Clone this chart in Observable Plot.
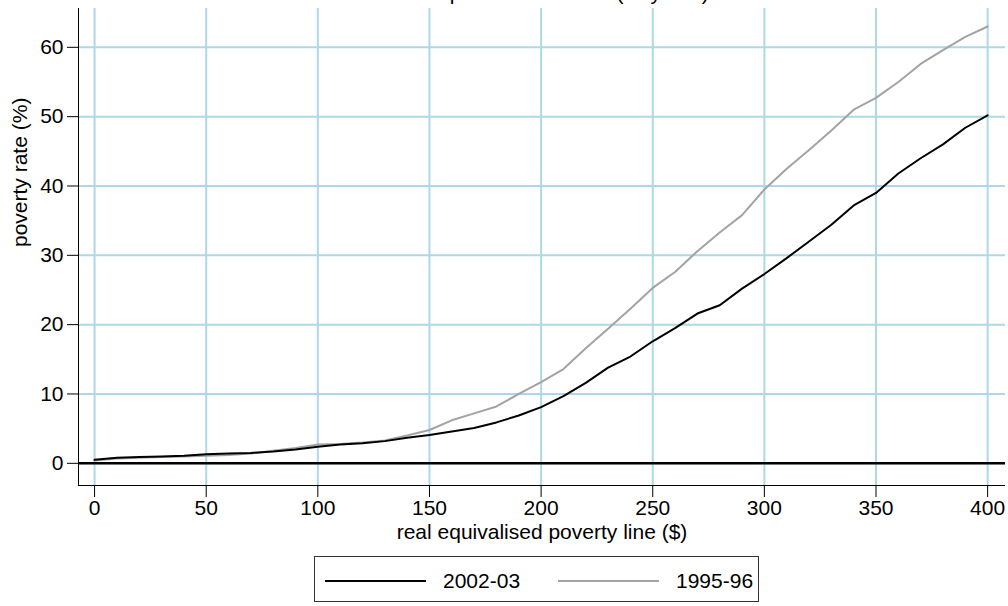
<!DOCTYPE html>
<html>
<head>
<meta charset="utf-8">
<script src="https://cdn.jsdelivr.net/npm/d3@7"></script>
<script src="https://cdn.jsdelivr.net/npm/@observablehq/plot@0.6"></script>
<style>
  html, body { margin: 0; padding: 0; background: #fff; }
  body { width: 1008px; height: 606px; overflow: hidden; position: relative; font-family: "Liberation Sans", Arial, sans-serif; }
  #legend { position: absolute; left: 314px; top: 556px; width: 445px; height: 46px; border: 1px solid #333; box-sizing: border-box; }
</style>
</head>
<body>
<div id="chart"></div>
<div id="legend"></div>
<script>
const title = "Couples with children (all years)";
const xLabel = "real equivalised poverty line ($)";
const yLabel = "poverty rate (%)";
const xTicks = [0, 50, 100, 150, 200, 250, 300, 350, 400];
const yTicks = [0, 10, 20, 30, 40, 50, 60];
const seriesNames = ["2002-03", "1995-96"];
const seriesColors = ["#000000", "#a3a3a3"];

const povertyLine = [0,10,20,30,40,50,60,70,80,90,100,110,120,130,140,150,160,170,180,190,200,210,220,230,240,250,260,270,280,290,300,310,320,330,340,350,360,370,380,390,400];
const rate2002 = [0.5,0.8,0.9,1.0,1.1,1.3,1.4,1.5,1.7,2.0,2.4,2.7,2.9,3.2,3.7,4.1,4.6,5.1,5.9,6.9,8.1,9.7,11.6,13.8,15.4,17.6,19.5,21.6,22.8,25.2,27.3,29.6,32.0,34.4,37.2,39.0,41.8,44.0,46.0,48.4,50.2];
const rate1995 = [0.4,0.7,0.8,0.9,1.0,1.1,1.2,1.4,1.8,2.2,2.7,2.8,3.0,3.3,4.0,4.8,6.2,7.2,8.2,10.0,11.7,13.6,16.6,19.4,22.3,25.3,27.6,30.6,33.3,35.8,39.5,42.5,45.2,48.0,51.0,52.7,55.0,57.6,59.6,61.5,63.0];

const xDomain = [-7.2, 408];
const yDomain = [-3.2, 65.6];

const rows = [];
povertyLine.forEach((x, i) => {
  rows.push({x, y: rate1995[i], s: seriesNames[1]});
});
povertyLine.forEach((x, i) => {
  rows.push({x, y: rate2002[i], s: seriesNames[0]});
});

const plot = Plot.plot({
  width: 1008,
  height: 548,
  marginLeft: 78,
  marginRight: 3,
  marginTop: 8,
  marginBottom: 63,
  style: {fontFamily: "'Liberation Sans', Arial, sans-serif", fontSize: "21px", color: "#000", background: "#fff", overflow: "visible"},
  x: {domain: xDomain},
  y: {domain: yDomain},
  color: {domain: seriesNames, range: seriesColors},
  marks: [
    Plot.gridX(xTicks, {stroke: "#add8e6", strokeOpacity: 1, strokeWidth: 2}),
    Plot.gridY(yTicks, {stroke: "#add8e6", strokeOpacity: 1, strokeWidth: 2}),
    Plot.ruleY([0], {stroke: "#000", strokeWidth: 2.5}),
    Plot.line(rows, {x: "x", y: "y", z: "s", stroke: "s", strokeWidth: 2}),
    Plot.ruleX([xDomain[0]], {stroke: "#000", strokeWidth: 1}),
    Plot.ruleY([yDomain[0]], {stroke: "#000", strokeWidth: 1}),
    Plot.axisX(xTicks, {tickSize: 12, tickPadding: 3, label: null, fontSize: 21}),
    Plot.axisY(yTicks, {tickSize: 11, tickPadding: 4, label: null, fontSize: 21}),
    Plot.text([xLabel], {frameAnchor: "bottom", lineAnchor: "middle", dy: 47, fontSize: 21}),
    Plot.text([yLabel], {frameAnchor: "left", lineAnchor: "middle", rotate: -90, dx: -58, fontSize: 21}),
    Plot.text([title], {frameAnchor: "top", lineAnchor: "bottom", dy: -9, dx: 18, fontSize: 21})
  ]
});
document.getElementById("chart").appendChild(plot);

// legend
const lg = d3.select("#legend").append("svg").attr("width", 445).attr("height", 46)
  .style("font-family", "'Liberation Sans', Arial, sans-serif");
const legendItems = seriesNames.map((name, i) => ({name, color: seriesColors[i], x0: [10, 243][i]}));
legendItems.forEach(d => {
  lg.append("line").attr("x1", d.x0).attr("x2", d.x0 + 101).attr("y1", 24).attr("y2", 24)
    .attr("stroke", d.color).attr("stroke-width", 2);
  lg.append("text").attr("x", d.x0 + 118).attr("y", 24).attr("dy", "0.35em")
    .attr("font-size", 21).text(d.name);
});
</script>
</body>
</html>
